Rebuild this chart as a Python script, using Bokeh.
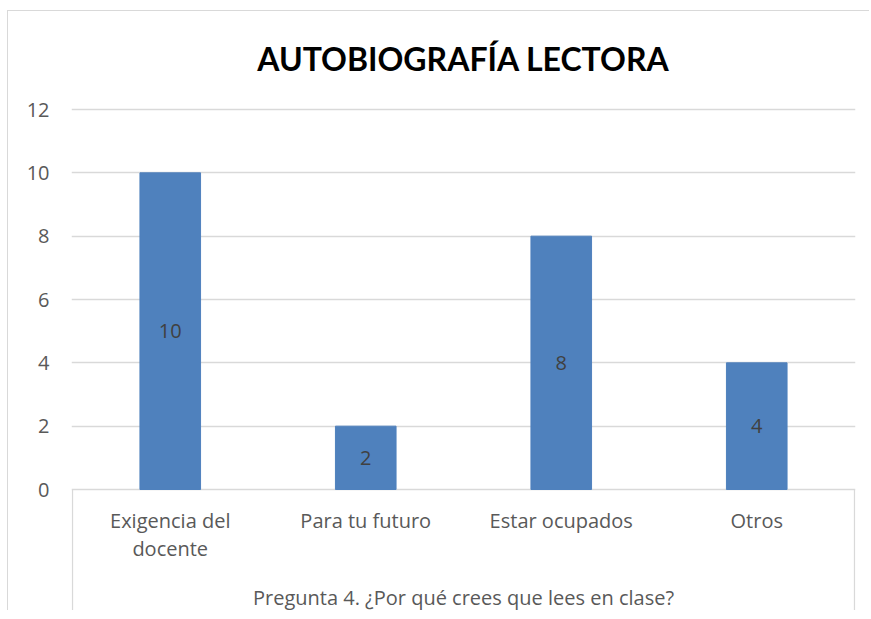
from bokeh.plotting import figure
from bokeh.models import FactorRange, Range1d, FixedTicker, Label, ColumnDataSource
from bokeh.core.properties import value
from bokeh.embed import file_html
from bokeh.resources import INLINE

# ---- data ----
categories = ["Exigencia del docente", "Para tu futuro", "Estar ocupados", "Otros"]
category_labels = ["Exigencia del\ndocente", "Para tu futuro", "Estar ocupados", "Otros"]
counts = [10, 2, 8, 4]
y_ticks = [0, 2, 4, 6, 8, 10, 12]
title_text = "AUTOBIOGRAFÍA LECTORA"
axis_title = "Pregunta 4. ¿Por qué crees que lees en clase?"

FONT = "Open Sans"
TFONT = "Lato"
GREY = "#D9D9D9"
TXT = "#595959"

n = len(categories)
px_per_unit = 380 / 12.0
y_top = 12 + 19 / px_per_unit
y_bottom = -121 / px_per_unit

p = figure(
    width=862, height=600,
    x_range=FactorRange(*categories, range_padding=0.0051, range_padding_units="absolute"),
    y_range=Range1d(y_bottom, y_top),
    output_backend="svg", toolbar_location=None,
    x_axis_location=None,
    min_border_left=63, min_border_right=15, min_border_top=79, min_border_bottom=1,
    title=title_text,
)
p.styles = {"border-left": f"1px solid {GREY}", "border-top": f"1px solid {GREY}",
            "margin-left": "7px", "margin-top": "10px"}
p.outline_line_color = None
p.background_fill_color = "white"
p.border_fill_color = "white"

p.title.align = "center"
p.title.text_font = TFONT
p.title.text_font_size = "32px"
p.title.text_font_style = "bold"
p.title.text_color = "#000000"
p.title.standoff = 26

p.xgrid.grid_line_color = None
p.ygrid.ticker = FixedTicker(ticks=y_ticks)
p.ygrid.grid_line_color = GREY
p.ygrid.grid_line_width = 1.3

ax = p.yaxis[0]
ax.ticker = FixedTicker(ticks=y_ticks)
ax.axis_line_color = None
ax.major_tick_line_color = None
ax.minor_tick_line_color = None
ax.major_tick_out = 0
ax.major_label_standoff = 22
ax.major_label_text_font = FONT
ax.major_label_text_font_size = "20px"
ax.major_label_text_color = TXT

src = ColumnDataSource(dict(cat=categories, lab=category_labels, v=counts,
                            mid=[c / 2 for c in counts], vt=[str(c) for c in counts]))

p.vbar(x="cat", top="v", bottom=0, width=0.31, source=src,
       fill_color="#4F81BD", line_color="#4F81BD")

p.text(x="cat", y="mid", text="vt", source=src, text_align="center",
       text_baseline="middle", text_font=value(FONT), text_font_size="20px",
       text_color="#404040")

# category labels below the axis line
p.text(x="cat", y=-0.55, text="lab", source=src, text_align="center",
       text_baseline="top", text_font=value(FONT), text_font_size="20px",
       text_color=TXT, text_line_height=1.05)

# box around category axis area
p.segment(x0=[0, n], y0=[0, 0], x1=[0, n], y1=[y_bottom, y_bottom],
          line_color=GREY, line_width=1.3)

p.add_layout(Label(x=n / 2, y=-3.4, text=axis_title, text_align="center",
                   text_baseline="middle", text_font=FONT, text_font_size="20px",
                   text_color=TXT))

open("out.html", "w").write(file_html(p, INLINE))
